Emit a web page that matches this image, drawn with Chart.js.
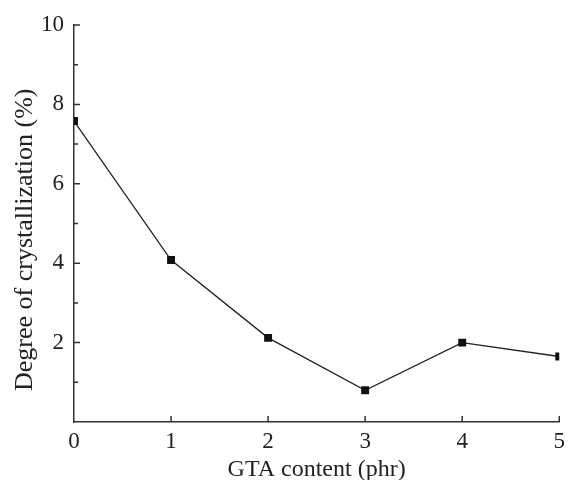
<!DOCTYPE html>
<html lang="en">
<head>
  <meta charset="UTF-8" />
  <title>Degree of crystallization vs GTA content</title>
  <script src="https://cdn.jsdelivr.net/npm/chart.js"></script>
  <style>
    body {
      margin: 0;
      background: #fff;
    }
    .wrap {
      width: 571px;
      height: 480px;
    }
  </style>
</head>
<body>
  <div class="wrap">
    <canvas id="crystChart" width="571" height="480"></canvas>
  </div>

  <script>
    const gtaContent = [0, 1, 2, 3, 4, 5];
    const crystallinity = [7.58, 4.08, 2.12, 0.8, 2.0, 1.65];
    const yLabelValues = [2, 4, 6, 8, 10];

    const AXIS_COLOR = '#333';

    // inward tick marks (major on labelled values, minor in between)
    const inwardTicks = {
      id: 'inwardTicks',
      afterDatasetsDraw(chart) {
        const { ctx, chartArea, scales: { x, y } } = chart;
        ctx.save();
        ctx.strokeStyle = AXIS_COLOR;
        ctx.lineWidth = 1.5;
        ctx.beginPath();
        for (let v = 1; v <= 10; v++) {
          const py = y.getPixelForValue(v);
          const len = v % 2 === 0 ? 6 : 4;
          ctx.moveTo(chartArea.left, py);
          ctx.lineTo(chartArea.left + len, py);
        }
        gtaContent.forEach(v => {
          if (v === 0) return;
          const px = x.getPixelForValue(v);
          ctx.moveTo(px, chartArea.bottom);
          ctx.lineTo(px, chartArea.bottom - 6);
        });
        ctx.stroke();
        ctx.restore();
      }
    };

    new Chart(document.getElementById('crystChart'), {
      type: 'line',
      data: {
        datasets: [{
          data: gtaContent.map((g, i) => ({ x: g, y: crystallinity[i] })),
          borderColor: '#222',
          borderWidth: 1.3,
          backgroundColor: '#111',
          pointStyle: 'rect',
          pointRadius: 5.6,
          pointBorderWidth: 0,
          tension: 0,
          clip: 0
        }]
      },
      options: {
        responsive: false,
        animation: false,
        layout: { padding: { top: 25, right: 11, left: 0, bottom: 0 } },
        plugins: {
          legend: { display: false },
          tooltip: { enabled: false }
        },
        scales: {
          x: {
            type: 'linear',
            min: 0,
            max: 5,
            afterFit(scale) { scale.height = 58; },
            grid: { display: false, drawTicks: false },
            border: { display: true, color: AXIS_COLOR, width: 1.5 },
            ticks: {
              stepSize: 1,
              padding: 6,
              color: '#222',
              font: { family: 'Liberation Serif', size: 23 }
            },
            title: {
              display: true,
              text: 'GTA content (phr)',
              color: '#222',
              padding: { top: 0, bottom: -4 },
              font: { family: 'Liberation Serif', size: 24 }
            }
          },
          y: {
            min: 0,
            max: 10,
            afterFit(scale) { scale.width = 74; },
            grid: { display: false, drawTicks: false },
            border: { display: true, color: AXIS_COLOR, width: 1.5 },
            ticks: {
              stepSize: 1,
              padding: 10,
              autoSkip: false,
              color: '#222',
              font: { family: 'Liberation Serif', size: 23 },
              callback: v => yLabelValues.includes(v) ? String(v) : ''
            },
            title: {
              display: true,
              // trailing spaces nudge the centred title a little lower, as in the original
              text: 'Degree of crystallization (%)\u00a0\u00a0\u00a0\u00a0\u00a0',
              color: '#222',
              padding: { top: 10, bottom: 0 },
              font: { family: 'Liberation Serif', size: 26 }
            }
          }
        }
      },
      plugins: [inwardTicks]
    });
  </script>
</body>
</html>
